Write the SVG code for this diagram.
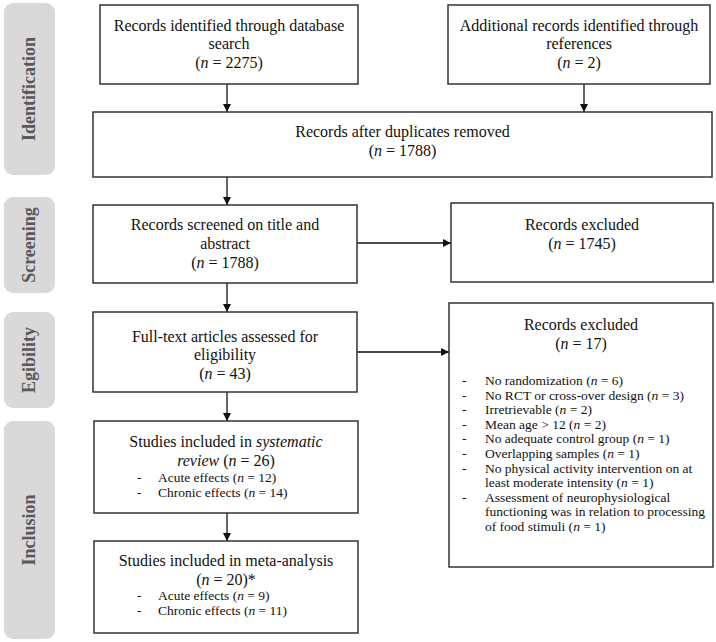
<svg xmlns="http://www.w3.org/2000/svg" width="716" height="642" viewBox="0 0 716 642">
<style>
.bg{fill:#ffffff}
.phase{fill:#d9d9d9;stroke:none}
.ptxt{font-family:"Liberation Serif","Times New Roman",serif;font-weight:bold;font-size:18px;fill:#595959;text-anchor:middle}
.box{fill:#ffffff;stroke:#333333;stroke-width:1.5}
.t{font-family:"Liberation Serif","Times New Roman",serif;font-size:16px;fill:#111111;text-anchor:middle}
.s{font-family:"Liberation Serif","Times New Roman",serif;font-size:13.5px;fill:#111111}
.i{font-style:italic}
.conn{stroke:#111111;stroke-width:1.3;fill:none;marker-end:url(#ah)}
</style>
<defs>
<marker id="ah" viewBox="0 0 10 10" refX="10" refY="5" markerWidth="8" markerHeight="8" markerUnits="userSpaceOnUse" orient="auto">
<path d="M0,0 L10,5 L0,10 Z" fill="#111111"/>
</marker>
</defs>
<rect class="bg" x="0" y="0" width="716" height="642"/>

<g id="phase-identification">
<rect class="phase" x="4" y="3" width="51" height="172" rx="9"/>
<text class="ptxt" transform="translate(35,89) rotate(-90)">Identification</text>
</g>
<g id="phase-screening">
<rect class="phase" x="4" y="197" width="51" height="96" rx="9"/>
<text class="ptxt" transform="translate(35,245) rotate(-90)">Screening</text>
</g>
<g id="phase-eligibility">
<rect class="phase" x="4" y="312" width="51" height="96" rx="9"/>
<text class="ptxt" transform="translate(35,360) rotate(-90)">Egibility</text>
</g>
<g id="phase-inclusion">
<rect class="phase" x="4" y="421" width="51" height="218" rx="9"/>
<text class="ptxt" transform="translate(35,530) rotate(-90)">Inclusion</text>
</g>

<g id="connectors">
<line class="conn" x1="227" y1="84" x2="227" y2="112"/>
<line class="conn" x1="584" y1="84" x2="584" y2="112"/>
<line class="conn" x1="227" y1="177" x2="227" y2="205"/>
<line class="conn" x1="357" y1="243" x2="451" y2="243"/>
<line class="conn" x1="227" y1="283" x2="227" y2="312"/>
<line class="conn" x1="357" y1="352" x2="449" y2="352"/>
<line class="conn" x1="227" y1="392" x2="227" y2="421"/>
<line class="conn" x1="227" y1="513" x2="227" y2="541"/>
</g>

<g id="n-database">
<rect class="box" x="100" y="5" width="258" height="79"/>
<text class="t" x="229" y="30.5">Records identified through database</text>
<text class="t" x="229" y="49">search</text>
<text class="t" x="229" y="67.5">(<tspan class="i">n</tspan> = 2275)</text>
</g>
<g id="n-additional">
<rect class="box" x="448" y="5" width="262" height="79"/>
<text class="t" x="579" y="30.5">Additional records identified through</text>
<text class="t" x="579" y="49">references</text>
<text class="t" x="579" y="67.5">(<tspan class="i">n</tspan> = 2)</text>
</g>
<g id="n-duplicates">
<rect class="box" x="93" y="112" width="619" height="65"/>
<text class="t" x="402.5" y="137">Records after duplicates removed</text>
<text class="t" x="402.5" y="156">(<tspan class="i">n</tspan> = 1788)</text>
</g>
<g id="n-screened">
<rect class="box" x="93" y="205" width="264" height="78"/>
<text class="t" x="225" y="229.5">Records screened on title and</text>
<text class="t" x="225" y="248.5">abstract</text>
<text class="t" x="225" y="267.5">(<tspan class="i">n</tspan> = 1788)</text>
</g>
<g id="n-excluded1">
<rect class="box" x="451" y="203" width="262" height="79"/>
<text class="t" x="582" y="230">Records excluded</text>
<text class="t" x="582" y="249">(<tspan class="i">n</tspan> = 1745)</text>
</g>
<g id="n-fulltext">
<rect class="box" x="93" y="312" width="264" height="80"/>
<text class="t" x="225" y="342">Full-text articles assessed for</text>
<text class="t" x="225" y="360">eligibility</text>
<text class="t" x="225" y="378.5">(<tspan class="i">n</tspan> = 43)</text>
</g>
<g id="n-excluded2">
<rect class="box" x="449" y="303" width="264" height="264"/>
<text class="t" x="581" y="330">Records excluded</text>
<text class="t" x="581" y="349">(<tspan class="i">n</tspan> = 17)</text>
<g class="s">
<text x="462" y="385">-</text><text x="485" y="385">No randomization (<tspan class="i">n</tspan> = 6)</text>
<text x="462" y="399.6">-</text><text x="485" y="399.6">No RCT or cross-over design (<tspan class="i">n</tspan> = 3)</text>
<text x="462" y="414.2">-</text><text x="485" y="414.2">Irretrievable (<tspan class="i">n</tspan> = 2)</text>
<text x="462" y="428.8">-</text><text x="485" y="428.8">Mean age &gt; 12 (<tspan class="i">n</tspan> = 2)</text>
<text x="462" y="443.4">-</text><text x="485" y="443.4">No adequate control group (<tspan class="i">n</tspan> = 1)</text>
<text x="462" y="458">-</text><text x="485" y="458">Overlapping samples (<tspan class="i">n</tspan> = 1)</text>
<text x="462" y="472.6">-</text><text x="485" y="472.6">No physical activity intervention on at</text>
<text x="485" y="487.2">least moderate intensity (<tspan class="i">n</tspan> = 1)</text>
<text x="462" y="501.8">-</text><text x="485" y="501.8">Assessment of neurophysiological</text>
<text x="485" y="516.4">functioning was in relation to processing</text>
<text x="485" y="531">of food stimuli (<tspan class="i">n</tspan> = 1)</text>
</g>
</g>
<g id="n-systematic">
<rect class="box" x="94" y="421" width="264" height="92"/>
<text class="t" x="226" y="447">Studies included in <tspan class="i">systematic</tspan></text>
<text class="t" x="226" y="466"><tspan class="i">review</tspan> (<tspan class="i">n</tspan> = 26)</text>
<g class="s">
<text x="137" y="482">-</text><text x="158" y="482">Acute effects (<tspan class="i">n</tspan> = 12)</text>
<text x="137" y="497">-</text><text x="158" y="497">Chronic effects (<tspan class="i">n</tspan> = 14)</text>
</g>
</g>
<g id="n-meta">
<rect class="box" x="94" y="541" width="264" height="92"/>
<text class="t" x="226" y="566">Studies included in meta-analysis</text>
<text class="t" x="226" y="584.5">(<tspan class="i">n</tspan> = 20)*</text>
<g class="s">
<text x="137" y="600">-</text><text x="158" y="600">Acute effects (<tspan class="i">n</tspan> = 9)</text>
<text x="137" y="615">-</text><text x="158" y="615">Chronic effects (<tspan class="i">n</tspan> = 11)</text>
</g>
</g>
</svg>
